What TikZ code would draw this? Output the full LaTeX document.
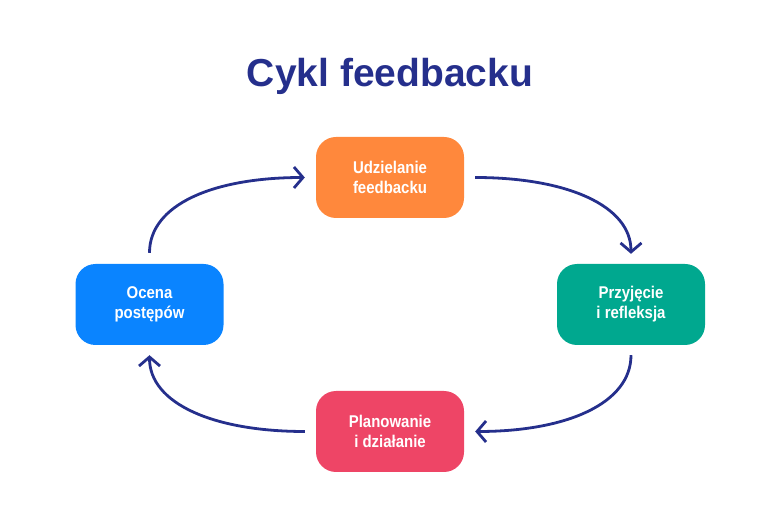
\documentclass[tikz,border=0pt]{standalone}
\usepackage{fontspec}
\setmainfont{Liberation Sans}
\newfontfamily\boxfont[FakeStretch=0.88]{Liberation Sans}
\usetikzlibrary{arrows.meta}
\definecolor{navy}{HTML}{252F8C}
\definecolor{cOrange}{HTML}{FF883C}
\definecolor{cTeal}{HTML}{00A88F}
\definecolor{cBlue}{HTML}{0A84FF}
\definecolor{cRed}{HTML}{EE4566}
\tikzset{
  stage/.style={rounded corners=20pt, minimum width=148pt, minimum height=81pt,
    text=white, align=center, inner sep=0pt,
    font=\boxfont\bfseries\fontsize{17}{20}\selectfont},
  arr/.style={draw=navy, line width=2.8pt, -{Straight Barb[length=9pt,width=21pt]}},
}
\begin{document}
\begin{tikzpicture}[x=1pt,y=1pt]
\useasboundingbox (0,0) rectangle (780,520);
\node[text=navy, font=\bfseries\fontsize{39}{44}\selectfont, anchor=base] (title) at (390,433) {Cykl feedbacku};
\node[stage, fill=cOrange] (top) at (390,342.5) {Udzielanie\\feedbacku};
\node[stage, fill=cTeal] (right) at (631,215.5) {Przyjęcie\\i refleksja};
\node[stage, fill=cBlue] (left) at (149.5,215.5) {Ocena\\postępów};
\node[stage, fill=cRed] (bottom) at (390,88.5) {Planowanie\\i działanie};
\draw[arr] ([xshift=11pt]top.east) .. controls +(92,0) and +(0,48) .. ([yshift=10pt]right.north);
\draw[arr] ([yshift=-10pt]right.south) .. controls +(0,-48) and +(92,0) .. ([xshift=11pt]bottom.east);
\draw[arr] ([xshift=-11pt]bottom.west) .. controls +(-92,0) and +(0,-48) .. ([yshift=-10pt]left.south);
\draw[arr] ([yshift=11pt]left.north) .. controls +(0,48) and +(-92,0) .. ([xshift=-11pt]top.west);
\end{tikzpicture}
\end{document}
